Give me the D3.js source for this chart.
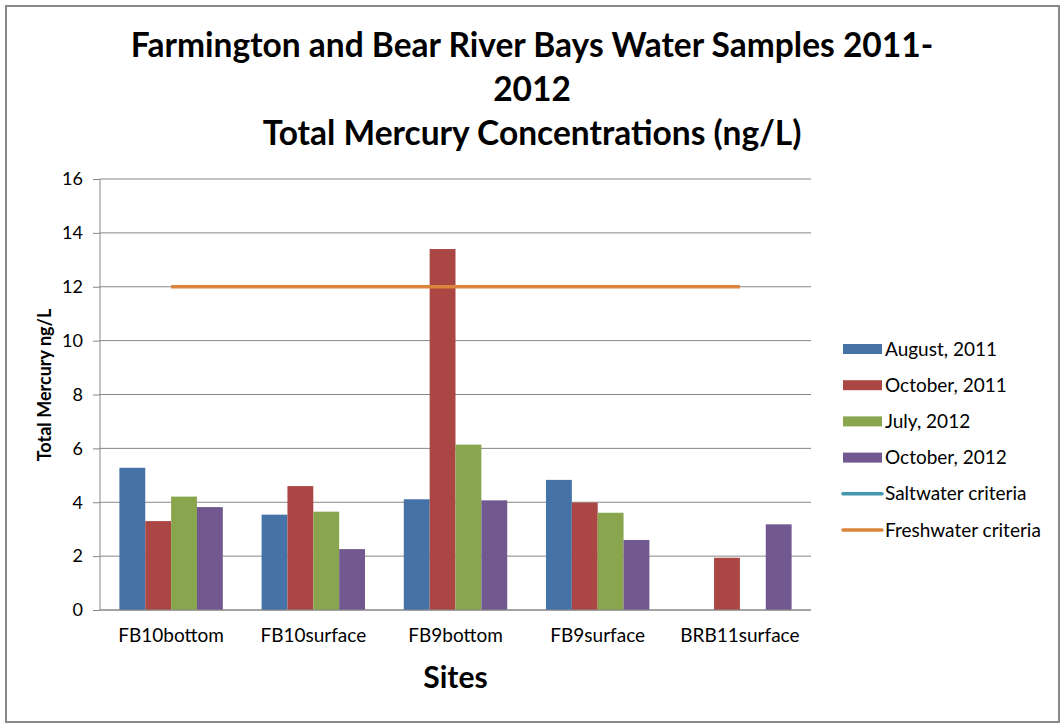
<!DOCTYPE html>
<meta charset="utf-8">
<head>
  <meta charset="utf-8">
  <title>Total mercury, Farmington and Bear River Bays</title>
  <script src="https://d3js.org/d3.v7.min.js"></script>
</head>

<style>
body {margin:0; background:#fff;}
svg text {font-family: Lato, "Open Sans", sans-serif; fill:#000;}
.grid line {stroke:#868686; stroke-width:1px;}
</style>

<body>
<script>

// data
var sites = ["FB10bottom", "FB10surface", "FB9bottom", "FB9surface", "BRB11surface"];
var seriesNames = ["August, 2011", "October, 2011", "July, 2012", "October, 2012"];
var aug2011 = [5.28, 3.54, 4.11, 4.83, null];
var oct2011 = [3.30, 4.60, 13.40, 3.99, 1.94];
var jul2012 = [4.21, 3.65, 6.14, 3.61, null];
var oct2012 = [3.82, 2.26, 4.07, 2.60, 3.18];
var saltwater = [];            // no saltwater values plotted
var freshwater = [12, 12, 12, 12, 12];
var yTicks = [0, 2, 4, 6, 8, 10, 12, 14, 16];

var colors = ["#4572A7", "#AA4643", "#89A54E", "#71588F"];
var saltColor = "#4198AF", freshColor = "#DB843D";

var W = 1060, H = 723;
var margin = {top: 179, right: 249, bottom: 113, left: 100},
    width = W - margin.left - margin.right,
    height = H - margin.top - margin.bottom;

var svg = d3.select("body").append("svg")
    .attr("width", W)
    .attr("height", H);

// outer border
svg.append("rect")
    .attr("x", 6).attr("y", 6)
    .attr("width", 1053).attr("height", 716)
    .attr("fill", "#fff")
    .attr("stroke", "#888").attr("stroke-width", 2);

// title
var title = svg.append("text")
    .attr("text-anchor", "middle")
    .style("font-weight", "bold")
    .style("font-size", "33.5px");
["Farmington and Bear River Bays Water Samples 2011-", "2012", "Total Mercury Concentrations (ng/L)"]
  .forEach(function(t, i) {
    title.append("tspan").attr("x", 532).attr("y", 57 + i * 44).text(t);
  });

var g = svg.append("g")
    .attr("transform", "translate(" + margin.left + "," + margin.top + ")");

var x0 = d3.scaleBand().domain(sites).range([0, width]).paddingInner(0).paddingOuter(0);
var barW = x0.bandwidth() / 5.5;
var x1 = d3.scaleBand().domain(d3.range(4)).range([barW * 0.75, barW * 4.75]);

var y = d3.scaleLinear().domain([0, 16]).range([height, 0]);

// gridlines
g.append("g").attr("class", "grid")
  .selectAll("line").data(yTicks).enter().append("line")
    .attr("x1", 0).attr("x2", width)
    .attr("y1", function(d) { return y(d); })
    .attr("y2", function(d) { return y(d); });

// bars
var allSeries = [aug2011, oct2011, jul2012, oct2012];
allSeries.forEach(function(vals, s) {
  g.append("g").selectAll("rect")
    .data(vals.map(function(v, i) { return {site: sites[i], v: v}; })
               .filter(function(d) { return d.v != null; }))
    .enter().append("rect")
      .attr("x", function(d) { return x0(d.site) + x1(s); })
      .attr("width", x1.bandwidth())
      .attr("y", function(d) { return y(d.v); })
      .attr("height", function(d) { return height - y(d.v); })
      .attr("fill", colors[s]);
});

// criteria lines
var line = d3.line()
    .x(function(d) { return x0(d.site) + x0.bandwidth() / 2; })
    .y(function(d) { return y(d.v); });

g.append("path")
    .datum(saltwater.map(function(v, i) { return {site: sites[i], v: v}; }))
    .attr("fill", "none").attr("stroke", saltColor).attr("stroke-width", 3.5)
    .attr("d", line);

g.append("path")
    .datum(freshwater.map(function(v, i) { return {site: sites[i], v: v}; }))
    .attr("fill", "none").attr("stroke", freshColor).attr("stroke-width", 3.5)
    .attr("d", line);

// y axis
var yAxis = g.append("g")
    .call(d3.axisLeft(y).tickValues(yTicks).tickSize(7).tickPadding(10).tickFormat(d3.format("d")));
yAxis.selectAll("line, path").attr("stroke", "#868686");
yAxis.select(".domain").attr("d", "M0," + height + "V0");
yAxis.selectAll("text").style("font-size", "18px");

// x axis
var xAxis = g.append("g")
    .attr("transform", "translate(0," + height + ")")
    .call(d3.axisBottom(x0).tickSize(0).tickPadding(19));
xAxis.select(".domain").attr("stroke", "#868686").attr("d", "M0,0H" + width);
xAxis.selectAll("text").style("font-size", "19px");

// axis titles
svg.append("text")
    .attr("x", margin.left + width / 2).attr("y", 688)
    .attr("text-anchor", "middle")
    .style("font-weight", "bold").style("font-size", "30px")
    .text("Sites");

svg.append("text")
    .attr("transform", "translate(51,385) rotate(-90)")
    .attr("text-anchor", "middle")
    .style("font-weight", "bold").style("font-size", "18px")
    .text("Total Mercury ng/L");

// legend
var legendItems = seriesNames.map(function(n, i) { return {name: n, color: colors[i], type: "bar"}; })
  .concat([{name: "Saltwater criteria", color: saltColor, type: "line"},
           {name: "Freshwater criteria", color: freshColor, type: "line"}]);

var legend = svg.append("g").attr("transform", "translate(843,349)");
legendItems.forEach(function(d, i) {
  var row = legend.append("g").attr("transform", "translate(0," + (i * 36.2) + ")");
  if (d.type == "bar") {
    row.append("rect").attr("x", 0).attr("y", -5).attr("width", 39).attr("height", 10).attr("fill", d.color);
  } else {
    row.append("line").attr("x1", 0).attr("x2", 39).attr("y1", 0).attr("y2", 0)
      .attr("stroke", d.color).attr("stroke-width", 3.5).attr("stroke-linecap", "round");
  }
  row.append("text").attr("x", 42).attr("y", 0).attr("dy", "0.35em")
    .style("font-size", "19px").text(d.name);
});

</script>
</body>
